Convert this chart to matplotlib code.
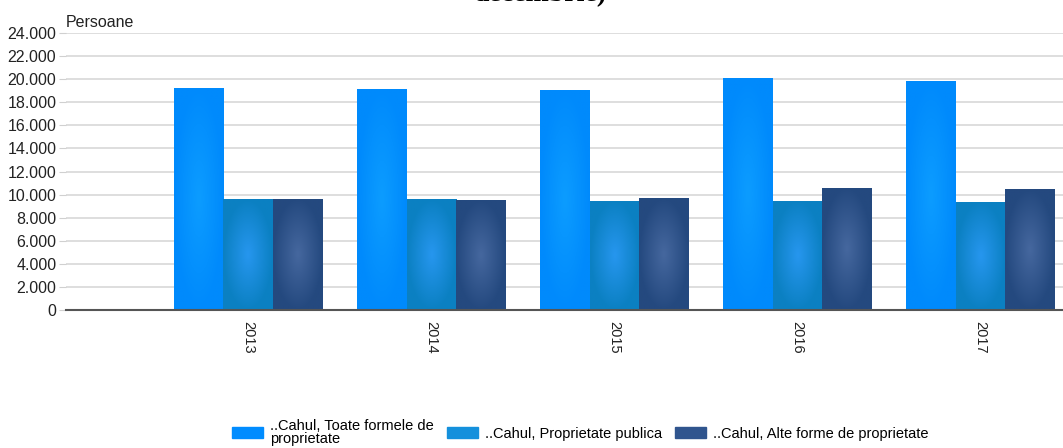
import numpy as np
import matplotlib
matplotlib.use("Agg")
import matplotlib.pyplot as plt
from matplotlib.colors import LinearSegmentedColormap

years = ["2013", "2014", "2015", "2016", "2017"]
series_names = ["..Cahul, Toate formele de\nproprietate",
                "..Cahul, Proprietate publica",
                "..Cahul, Alte forme de proprietate"]
toate = [19270, 19150, 19080, 20070, 19870]
publica = [9600, 9600, 9480, 9480, 9400]
alte = [9620, 9490, 9700, 10600, 10480]
yticks = list(range(0, 24001, 2000))
ytick_labels = ["0" if v == 0 else f"{v//1000}.000" for v in yticks]

base_colors = ["#008CFF", "#1490DC", "#30558E"]
center_colors = ["#0C9CFF", "#2696EE", "#45679E"]
edge_colors = ["#008AFC", "#0B80C2", "#24497F"]

plt.rcParams['font.family'] = ['Liberation Sans', 'DejaVu Sans']
fig = plt.figure(figsize=(10.63, 4.48), dpi=100)
ax = fig.add_axes([66/1063, 1 - 310/448, (1063-66)/1063, (310-33)/448])

x = np.arange(len(years))
w = 0.27
data = [toate, publica, alte]
for i, vals in enumerate(data):
    bars = ax.bar(x + (i - 1) * w, vals, width=w, color=base_colors[i],
                  edgecolor="none", label=series_names[i], zorder=2)
    cmap = LinearSegmentedColormap.from_list(f"g{i}", [center_colors[i], edge_colors[i]])
    gx, gy = np.meshgrid(np.linspace(-1, 1, 60), np.linspace(-1, 1, 120))
    r = np.clip(np.sqrt(gx**2 + (gy * 1.0)**2), 0, 1)
    for b in bars:
        bx0, by0 = b.get_x(), b.get_y()
        im = ax.imshow(r, cmap=cmap, extent=[bx0, bx0 + b.get_width(), by0, by0 + b.get_height()],
                       aspect='auto', zorder=2.5, origin='lower', interpolation='bilinear')
        im.set_clip_path(b)

ax.set_xlim(-0.995, 4.45)
ax.set_ylim(0, 24000)
ax.set_yticks(yticks)
ax.set_yticklabels(ytick_labels, fontsize=11.5, color="#222222")
ax.set_xticks(x)
ax.set_xticklabels(years, rotation=270, fontsize=10.5, color="#222222")
ax.tick_params(axis='x', length=0, pad=8)
ax.tick_params(axis='y', length=5, color="#d0d0d0", pad=2)
ax.grid(axis='y', color="#d8d8d8", linewidth=1.2, zorder=0)
ax.set_axisbelow(True)
for s in ["top", "right", "left"]:
    ax.spines[s].set_visible(False)
ax.spines["bottom"].set_color("#555555")
ax.spines["bottom"].set_linewidth(1.5)
ax.spines["bottom"].set_zorder(5)

ax.text(0.0, 1.01, "Persoane", transform=ax.transAxes, fontsize=11.5, ha='left', va='bottom',
        color="#222222")
fig.text(0.508, 1 - 1.5/448, "decembrie)", fontsize=20, family=["Liberation Serif"],
         fontweight='bold', ha='center', va='baseline')

handles = [plt.Rectangle((0, 0), 1, 1, color=c) for c in base_colors]
leg = fig.legend(handles, series_names, loc='lower center', bbox_to_anchor=(0.546, -0.025),
                 ncol=3, frameon=False, fontsize=10.5, handlelength=2.1, handleheight=0.75,
                 columnspacing=0.9, handletextpad=0.5, labelspacing=0.1)
for t in leg.get_texts():
    t.set_linespacing(0.95)

fig.savefig("out.png", dpi=100)
